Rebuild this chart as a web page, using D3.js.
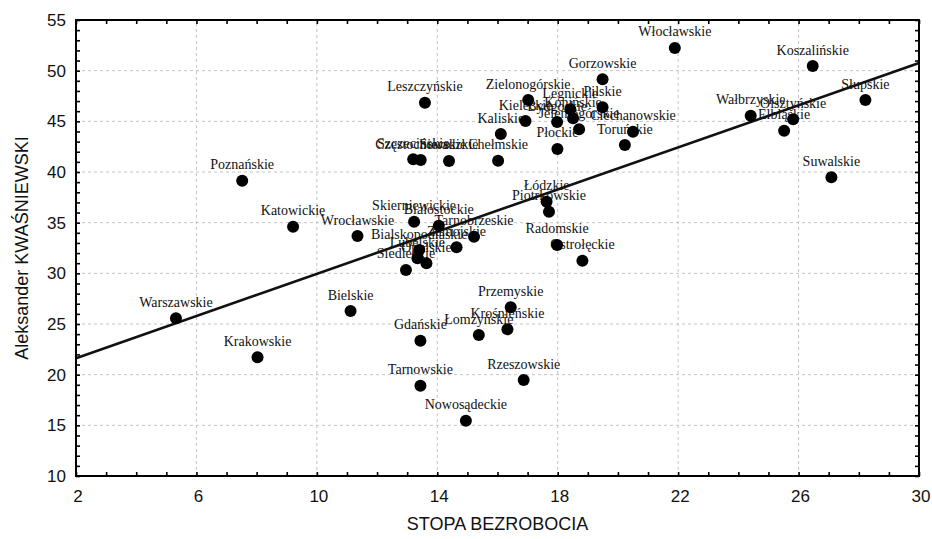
<!DOCTYPE html>
<html>
<head>
<meta charset="utf-8">
<script src="https://cdn.jsdelivr.net/npm/d3@7"></script>
<style>
	body { margin: 0; background: #fff; }
	.point-label { font-family: "Liberation Serif", "Times New Roman", serif; font-size: 14px; fill: #111; }
	.tick-label { font-family: "Liberation Sans", Arial, sans-serif; font-size: 17px; fill: #111; }
	.axis-title { font-family: "Liberation Sans", Arial, sans-serif; font-size: 18px; fill: #111; }
</style>
</head>
<body>
<div id="chart"></div>
<script>
var regions = [
	'Włocławskie', 'Koszalińskie', 'Słupskie', 'Gorzowskie', 'Wałbrzyskie', 'Olsztyńskie', 'Elbląskie',
	'Suwalskie', 'Leszczyńskie', 'Zielonogórskie', 'Legnickie', 'Pilskie', 'Konińskie', 'Kieleckie',
	'Bydgoskie', 'Jeleniogórskie', 'Ciechanowskie', 'Kaliskie', 'Toruńskie', 'Płockie', 'Szczecińskie',
	'Częstochowskie', 'Sieradzkie', 'Chełmskie', 'Poznańskie', 'Katowickie', 'Wrocławskie', 'Warszawskie',
	'Bielskie', 'Krakowskie', 'Łódzkie', 'Piotrkowskie', 'Skierniewickie', 'Białostockie', 'Tarnobrzeskie',
	'Zamojskie', 'Bialskopodlaskie', 'Lubelskie', 'Opolskie', 'Siedleckie', 'Radomskie', 'Ostrołęckie',
	'Przemyskie', 'Krośnieńskie', 'Łomżyńskie', 'Gdańskie', 'Tarnowskie', 'Rzeszowskie', 'Nowosądeckie'
];

// stopa bezrobocia (%)
var unemployment = [
	21.89, 26.47, 28.22, 19.49, 24.41, 25.82, 25.52,
	27.09, 13.59, 17.02, 18.42, 19.49, 18.51, 16.93,
	17.98, 18.71, 20.50, 16.11, 20.23, 17.99, 13.20,
	13.45, 14.39, 16.02, 7.52, 9.21, 11.35, 5.32,
	11.12, 8.03, 17.63, 17.71, 13.23, 14.05, 15.22,
	14.64, 13.40, 13.34, 13.64, 12.96, 17.98, 18.82,
	16.44, 16.33, 15.38, 13.44, 13.44, 16.87, 14.95
];

// wynik Aleksandra Kwaśniewskiego (%)
var kwasniewski = [
	52.24, 50.46, 47.10, 49.15, 45.56, 45.20, 44.08,
	39.48, 46.84, 47.10, 46.19, 46.38, 45.30, 45.03,
	44.93, 44.21, 43.98, 43.75, 42.66, 42.27, 41.25,
	41.18, 41.09, 41.11, 39.14, 34.60, 33.68, 25.56,
	26.28, 21.71, 37.07, 36.08, 35.09, 34.70, 33.61,
	32.57, 32.30, 31.48, 30.99, 30.33, 32.80, 31.25,
	26.65, 24.48, 23.91, 23.35, 18.91, 19.47, 15.46
];

var xTickLabels = [2, 6, 10, 14, 18, 22, 26, 30];
var yTickLabels = [10, 15, 20, 25, 30, 35, 40, 45, 50, 55];

// linia regresji
var fitLine = [[2, 21.63], [30, 50.75]];

(function () {
	'use strict';

	var width = 932,
		height = 539,
		margin = {top: 20, right: 13, bottom: 63, left: 76};

	var x = d3.scaleLinear().domain([2, 30]).range([margin.left, width - margin.right]);
	var y = d3.scaleLinear().domain([10, 55]).range([height - margin.bottom, margin.top]);

	var points = regions.map(function (name, i) {
		return {name: name, x: unemployment[i], y: kwasniewski[i]};
	});

	var svg = d3.select('#chart')
		.append('svg')
		.attr('width', width)
		.attr('height', height);

	// siatka
	var grid = svg.append('g').attr('class', 'grid')
		.attr('stroke', '#c4c4c4')
		.attr('stroke-width', 1)
		.attr('stroke-dasharray', '3,3');

	grid.selectAll('line.vx')
		.data(xTickLabels.slice(1, -1))
		.enter()
		.append('line')
		.attr('x1', function (d) { return x(d); })
		.attr('x2', function (d) { return x(d); })
		.attr('y1', y(10))
		.attr('y2', y(55));

	grid.selectAll('line.hy')
		.data(yTickLabels.slice(1, -1))
		.enter()
		.append('line')
		.attr('x1', x(2))
		.attr('x2', x(30))
		.attr('y1', function (d) { return y(d); })
		.attr('y2', function (d) { return y(d); });

	// osie z drobnymi znacznikami do wewnątrz
	var minorX = d3.range(2, 31, 1),
		minorY = d3.range(10, 56, 1);

	function styleAxis(g) {
		g.select('.domain').remove();
		g.selectAll('.tick line').attr('stroke', '#000').attr('stroke-width', 1.6);
		g.selectAll('.tick text').remove();
	}

	svg.append('g')
		.attr('transform', 'translate(0,' + y(10) + ')')
		.call(d3.axisBottom(x).tickValues(minorX).tickSize(-4))
		.call(styleAxis);

	svg.append('g')
		.attr('transform', 'translate(0,' + y(55) + ')')
		.call(d3.axisTop(x).tickValues(minorX).tickSize(-4))
		.call(styleAxis);

	svg.append('g')
		.attr('transform', 'translate(' + x(2) + ',0)')
		.call(d3.axisLeft(y).tickValues(minorY).tickSize(-4))
		.call(styleAxis);

	svg.append('g')
		.attr('transform', 'translate(' + x(30) + ',0)')
		.call(d3.axisRight(y).tickValues(minorY).tickSize(-4))
		.call(styleAxis);

	svg.selectAll('text.x-tick')
		.data(xTickLabels)
		.enter()
		.append('text')
		.attr('class', 'tick-label')
		.attr('text-anchor', 'middle')
		.attr('x', function (d) { return x(d) + 2; })
		.attr('y', y(10) + 26)
		.text(function (d) { return d; });

	svg.selectAll('text.y-tick')
		.data(yTickLabels)
		.enter()
		.append('text')
		.attr('class', 'tick-label')
		.attr('text-anchor', 'end')
		.attr('x', x(2) - 10)
		.attr('y', function (d) { return y(d) + 6; })
		.text(function (d) { return d; });

	svg.append('text')
		.attr('class', 'axis-title')
		.attr('text-anchor', 'middle')
		.attr('x', (x(2) + x(30)) / 2)
		.attr('y', height - 9)
		.text('STOPA BEZROBOCIA');

	svg.append('text')
		.attr('class', 'axis-title')
		.attr('text-anchor', 'middle')
		.attr('transform', 'translate(28,' + (y(10) + y(55)) / 2 + ') rotate(-90)')
		.text('Aleksander KWAŚNIEWSKI');

	// etykiety województw
	svg.append('g')
		.selectAll('text')
		.data(points)
		.enter()
		.append('text')
		.attr('class', 'point-label')
		.attr('text-anchor', 'middle')
		.attr('x', function (d) { return x(d.x); })
		.attr('y', function (d) { return y(d.y) - 11.5; })
		.text(function (d) { return d.name; });

	// linia regresji
	svg.append('line')
		.attr('x1', x(fitLine[0][0]))
		.attr('y1', y(fitLine[0][1]))
		.attr('x2', x(fitLine[1][0]))
		.attr('y2', y(fitLine[1][1]))
		.attr('stroke', '#111')
		.attr('stroke-width', 2.6);

	// punkty
	svg.append('g')
		.selectAll('circle')
		.data(points)
		.enter()
		.append('circle')
		.attr('cx', function (d) { return x(d.x); })
		.attr('cy', function (d) { return y(d.y); })
		.attr('r', 6)
		.attr('fill', '#000');

	// ramka
	svg.append('rect')
		.attr('x', x(2))
		.attr('y', y(55))
		.attr('width', x(30) - x(2))
		.attr('height', y(10) - y(55))
		.attr('fill', 'none')
		.attr('stroke', '#000')
		.attr('stroke-width', 2);
})();
</script>
</body>
</html>
